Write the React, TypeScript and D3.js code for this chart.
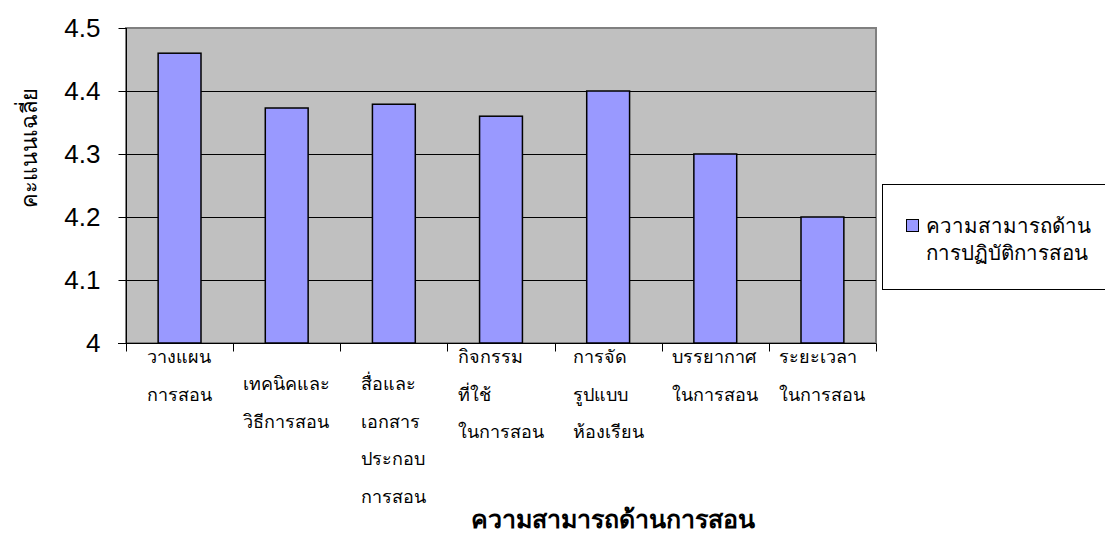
import React, { useEffect, useRef } from 'react';
import * as d3 from 'd3';

const categories = [
  ['วางแผน', 'การสอน'],
  ['เทคนิคและ', 'วิธีการสอน'],
  ['สื่อและ', 'เอกสาร', 'ประกอบ', 'การสอน'],
  ['กิจกรรม', 'ที่ใช้', 'ในการสอน'],
  ['การจัด', 'รูปแบบ', 'ห้องเรียน'],
  ['บรรยากาศ', 'ในการสอน'],
  ['ระยะเวลา', 'ในการสอน'],
];
// Excel staggers some labels one row down
const labelRow = [0, 1, 1, 0, 0, 0, 0];
const values = [4.46, 4.373, 4.379, 4.36, 4.4, 4.3, 4.2];
const yTicks = [4, 4.1, 4.2, 4.3, 4.4, 4.5];
const seriesName = ['ความสามารถด้าน', 'การปฏิบัติการสอน'];
const yTitle = 'คะแนนเฉลี่ย';
const xTitle = 'ความสามารถด้านการสอน';

const sans = 'Tahoma, "DejaVu Sans", Arial, sans-serif';
const serif = '"Liberation Serif", "DejaVu Serif", serif';

function App() {
  const ref = useRef<SVGSVGElement>(null);

  useEffect(() => {
    const width = 1105, height = 536;
    const left = 126, right = 876, top = 28, bottom = 343;
    const svg = d3.select(ref.current).attr('width', width).attr('height', height);
    svg.selectAll('*').remove();

    const x = d3.scaleBand<number>().domain(d3.range(categories.length)).range([left, right]);
    const y = d3.scaleLinear().domain([4, 4.5]).range([bottom, top]);

    // plot area
    svg.append('rect')
      .attr('x', left).attr('y', top)
      .attr('width', right - left).attr('height', bottom - top)
      .attr('fill', '#c0c0c0')
      .attr('stroke', '#808080').attr('stroke-width', 2);

    // grid
    svg.append('g').selectAll('line')
      .data(yTicks.slice(1, -1))
      .join('line')
      .attr('x1', left).attr('x2', right)
      .attr('y1', (d) => Math.round(y(d)) + 0.5).attr('y2', (d) => Math.round(y(d)) + 0.5)
      .attr('stroke', '#000');

    // bars
    const bw = x.bandwidth() * 0.4;
    svg.append('g').selectAll('rect')
      .data(values)
      .join('rect')
      .attr('x', (_, i) => x(i)! + (x.bandwidth() - bw) / 2)
      .attr('y', (d) => y(d))
      .attr('width', bw)
      .attr('height', (d) => bottom - y(d))
      .attr('fill', '#9999ff')
      .attr('stroke', '#000').attr('stroke-width', 1.5);

    // y axis
    const yAxis = svg.append('g')
      .attr('transform', `translate(${left + 0.5},0)`)
      .call(d3.axisLeft(y).tickValues(yTicks).tickSize(8).tickPadding(18).tickFormat(d3.format('')));
    yAxis.select('.domain').attr('stroke', '#000').attr('d', `M0,${top}V${bottom}`);
    yAxis.selectAll('text').attr('font-family', 'Arial, "Liberation Sans", sans-serif')
      .attr('font-size', 26).attr('fill', '#000');

    // x axis
    const xAxis = svg.append('g').attr('transform', `translate(0,${bottom + 0.5})`);
    xAxis.append('line').attr('x1', left - 8).attr('x2', right).attr('stroke', '#000');
    xAxis.selectAll('line.tick')
      .data(d3.range(categories.length + 1))
      .join('line')
      .attr('class', 'tick')
      .attr('x1', (i) => Math.round(left + i * x.step()) + 0.5)
      .attr('x2', (i) => Math.round(left + i * x.step()) + 0.5)
      .attr('y1', 0).attr('y2', 8)
      .attr('stroke', '#000');

    // category labels (left aligned block, centred on band)
    const lineH = 37.5;
    categories.forEach((lines, i) => {
      const g = svg.append('g');
      const t = g.append('text')
        .attr('font-family', serif).attr('font-size', 18).attr('fill', '#000');
      lines.forEach((s, j) => {
        t.append('tspan').attr('x', 0).attr('y', j * lineH).text(s);
      });
      const w = (t.node() as SVGTextElement).getBBox().width;
      const cx = x(i)! + x.bandwidth() / 2;
      g.attr('transform', `translate(${cx - w / 2},${bottom + 20 + labelRow[i] * 27})`);
    });

    // axis titles
    svg.append('text')
      .attr('transform', `translate(37,148) rotate(-90)`)
      .attr('text-anchor', 'middle')
      .attr('font-family', sans).attr('font-size', 22)
      .text(yTitle);
    svg.append('text')
      .attr('x', 613).attr('y', 528)
      .attr('text-anchor', 'middle')
      .attr('font-family', sans).attr('font-size', 25).attr('font-weight', 'bold')
      .text(xTitle);

    // legend
    const lg = svg.append('g').attr('transform', 'translate(882.5,184.5)');
    lg.append('rect').attr('width', 240).attr('height', 105)
      .attr('fill', '#fff').attr('stroke', '#000');
    lg.append('rect').attr('x', 24).attr('y', 35).attr('width', 12).attr('height', 12)
      .attr('fill', '#9999ff').attr('stroke', '#000');
    const lt = lg.append('text').attr('font-family', sans).attr('font-size', 20.5);
    seriesName.forEach((s, j) => {
      lt.append('tspan').attr('x', 43).attr('y', 48 + j * 27).text(s);
    });
  }, []);

  return <svg ref={ref} style={{ display: 'block', position: 'absolute', left: 0, top: 0 }}></svg>;
}

export default App;
